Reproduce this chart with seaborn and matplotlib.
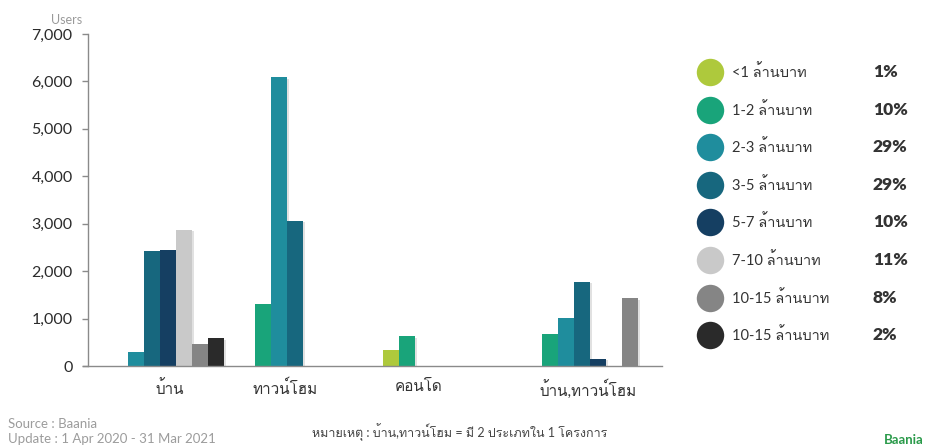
import matplotlib
matplotlib.use("Agg")
import matplotlib.pyplot as plt
import matplotlib.patheffects as pe
import matplotlib.transforms as mtrans
from matplotlib import font_manager as fm
from matplotlib.ft2font import FT2Font
from matplotlib.ticker import FuncFormatter
import pandas as pd
import seaborn as sns

# ---- data -------------------------------------------------------------
categories = ["บ้าน", "ทาวน์โฮม", "คอนโด", "บ้าน,ทาวน์โฮม"]
band_keys = ["<1", "1-2", "2-3", "3-5", "5-7", "7-10", "10-15", "15+"]
legend_labels = ["<1 ล้านบาท", "1-2 ล้านบาท", "2-3 ล้านบาท", "3-5 ล้านบาท",
                 "5-7 ล้านบาท", "7-10 ล้านบาท", "10-15 ล้านบาท", "10-15 ล้านบาท"]
legend_pct = ["1%", "10%", "29%", "29%", "10%", "11%", "8%", "2%"]

users_lt1 = [0, 0, 330, 0]
users_1_2 = [0, 1300, 630, 680]
users_2_3 = [290, 6090, 0, 1010]
users_3_5 = [2430, 3060, 0, 1780]
users_5_7 = [2450, 0, 0, 150]
users_7_10 = [2870, 0, 0, 0]
users_10_15 = [460, 0, 0, 1430]
users_15p = [580, 0, 0, 0]

band_colors = ["#aec93c", "#19a47a", "#1f8d9d", "#17677e",
               "#153f62", "#c9c9c9", "#858585", "#2a2a2a"]

y_ticks = [0, 1000, 2000, 3000, 4000, 5000, 6000, 7000]

note_text = "หมายเหตุ : บ้าน,ทาวน์โฮม = มี 2 ประเภทใน 1 โครงการ"
source_text = "Source : Baania"
update_text = "Update : 1 Apr 2020 - 31 Mar 2021"

# ---- fonts ------------------------------------------------------------
def font_with(chars):
    seen = set()
    for entry in fm.fontManager.ttflist:
        if entry.name in seen:
            continue
        seen.add(entry.name)
        try:
            cmap = FT2Font(entry.fname).get_charmap()
        except Exception:
            continue
        if all(ord(c) in cmap for c in chars):
            return entry.name
    return None

sns.set_theme(style="white")
thai_font = font_with("บ้านทาวน์โฮม")
families = ["Lato"] + ([thai_font] if thai_font else []) + ["DejaVu Sans"]
plt.rcParams["font.family"] = families

# ---- long-form table --------------------------------------------------
series = [users_lt1, users_1_2, users_2_3, users_3_5,
          users_5_7, users_7_10, users_10_15, users_15p]
rows = []
for key, vals in zip(band_keys, series):
    for cat, v in zip(categories, vals):
        if v > 0:
            rows.append({"type": cat, "band": key, "users": v})
df = pd.DataFrame(rows)

# ---- figure -----------------------------------------------------------
W, H = 928, 445
fig = plt.figure(figsize=(W / 100, H / 100), dpi=100)
ax = fig.add_axes([88 / W, 1 - 366 / H, (662 - 88) / W, (366 - 34) / H])

sns.barplot(data=df, x="type", y="users", hue="band",
            order=categories, hue_order=band_keys,
            palette=dict(zip(band_keys, band_colors)),
            width=0.89, errorbar=None, legend=False,
            linewidth=0, saturation=1, ax=ax)

shadow = [pe.SimplePatchShadow(offset=(1.5, -1), shadow_rgbFace="#777777", alpha=0.22),
          pe.Normal()]
for p in ax.patches:
    p.set_path_effects(shadow)

ax.set_xlim(-0.5, 3.5)
ax.set_ylim(0, 7000)
ax.set_yticks(y_ticks)
ax.yaxis.set_major_formatter(FuncFormatter(lambda v, _: f"{int(v):,}"))
ax.set_xlabel("")
ax.set_ylabel("")
for s in ["top", "right"]:
    ax.spines[s].set_visible(False)
for s in ["left", "bottom"]:
    ax.spines[s].set_color("#8a8a8a")
    ax.spines[s].set_linewidth(1.0)
ax.spines["bottom"].set_bounds(-0.535, 3.5)
ax.tick_params(axis="y", direction="out", length=4, width=1, color="#8a8a8a",
               labelsize=11.5, labelcolor="#2b2b2b", pad=7, left=True)
ax.tick_params(axis="x", length=0, labelsize=11, labelcolor="#333333", pad=10)

# category captions sit a little off the group centres
label_shift_px = [10, -18, -28, -2]
for lbl, dx in zip(ax.get_xticklabels(), label_shift_px):
    lbl.set_transform(lbl.get_transform() +
                      mtrans.ScaledTranslation(dx / 100, 0, fig.dpi_scale_trans))

# ---- overlay in pixel coordinates: legend + footer --------------------
ov = fig.add_axes([0, 0, 1, 1], facecolor="none")
ov.set_xlim(0, W)
ov.set_ylim(H, 0)
ov.axis("off")

ov.text(67, 20, "Users", color="#9a9a9a", fontsize=9, ha="center", va="center")

y0, dy = 72, 37.6
for i, (lab, pct, col) in enumerate(zip(legend_labels, legend_pct, band_colors)):
    y = y0 + i * dy
    ov.scatter([710], [y], s=390, color=col, linewidths=0)
    ov.text(732, y, lab, fontsize=10.5, color="#333333", va="center", ha="left")
    ov.text(873, y, pct, fontsize=12.5, color="#333333", va="center", ha="left",
            fontweight="heavy")

ov.text(8, 424, source_text, fontsize=9.5, color="#9c9c9c", va="center", ha="left")
ov.text(8, 439, update_text, fontsize=9.5, color="#9c9c9c", va="center", ha="left")
ov.text(460, 432, note_text, fontsize=9, color="#444444", va="center", ha="center")
ov.text(904, 440, "Baania", fontsize=9.5, color="#2a9a4a", va="center", ha="center",
        fontweight="bold")

fig.savefig("out.png", dpi=100)
